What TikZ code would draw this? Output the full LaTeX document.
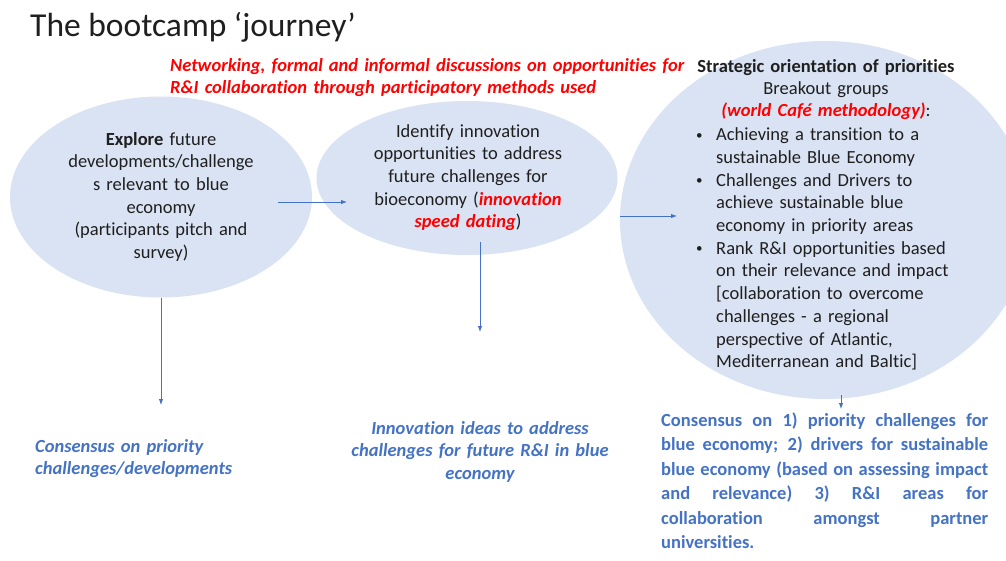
\documentclass[tikz,border=0pt]{standalone}
\usepackage{fontspec}
\setmainfont[Ligatures=NoCommon]{Carlito}
\usetikzlibrary{arrows.meta,shapes.geometric}

\definecolor{bubble}{HTML}{DAE3F3}
\definecolor{flow}{HTML}{4472C4}
\definecolor{hot}{HTML}{FF0000}
\definecolor{ink}{HTML}{1F1F1F}

\newcommand\bulletmark{\makebox[22pt][l]{\hspace*{2pt}\raisebox{1.4pt}{\fontsize{13}{13}\selectfont •}}}
\newcommand\hangpad{\hspace*{22pt}}
\newcommand\hotbi[1]{{\color{hot}\bfseries\itshape #1}}
% a fully justified line: interword spaces share out the spare width
\newcommand\jline[1]{\leavevmode\hbox to 327pt{\spaceskip=0.23em plus 1fil\relax #1}}

\tikzset{
  bubble/.style={ellipse, fill=bubble, draw=none, inner sep=0pt},
  body/.style={font=\fontsize{18.5}{22.7}\selectfont, text=ink, inner sep=0pt, anchor=base},
  outcome/.style={font=\fontsize{18.5}{22.6}\selectfont\bfseries\itshape, text=flow, inner sep=0pt, anchor=base},
  flowarrow/.style={draw=flow, line width=0.9pt, -{Latex[length=6pt,width=4.5pt]}},
}

\begin{document}
\begin{tikzpicture}[x=1pt,y=-1pt]
\useasboundingbox (0,0) rectangle (1006,560);
\clip (0,0) rectangle (1006,560);
\fill[white] (0,0) rectangle (1006,560);

% stage bubbles
\node[bubble, minimum width=302pt, minimum height=201pt] (explore) at (161,197) {};
\node[bubble, minimum width=301pt, minimum height=154pt] (identify) at (467,178) {};
\node[bubble, minimum width=410pt, minimum height=358pt] (strategy) at (825,220) {};

% title and overall note
\node[anchor=base west, inner sep=0pt, text=ink, font=\fontsize{33.5}{40}\selectfont] (title) at (30,36) {The bootcamp ‘journey’};
\node[anchor=base west, inner sep=0pt, text=hot, text width=540pt, align=left,
      font=\fontsize{18.5}{22}\selectfont\bfseries\itshape] (network) at (170,71)
  {Networking, formal and informal discussions on opportunities for\\R\&I collaboration through participatory methods used};

% stage texts
\node[body, text width=240pt, align=center] (exploretext) at (161,145)
  {\textbf{Explore} future\\developments/challenge\\s relevant to blue\\economy\\(participants pitch and\\survey)};
\node[body, text width=260pt, align=center] (identifytext) at (468,137)
  {Identify innovation\\opportunities to address\\future challenges for\\bioeconomy (\hotbi{innovation}\\\hotbi{speed dating})};
\node[body, text width=300pt, align=center, font=\fontsize{18.5}{22}\selectfont] (strategyhead) at (826,72)
  {\textbf{Strategic orientation of priorities}\\Breakout groups\\\hotbi{(world Café methodology)}:};
\node[body, anchor=base west, text width=300pt, align=left] (strategylist) at (694,140.7)
  {\bulletmark Achieving a transition to a\\
   \hangpad sustainable Blue Economy\\
   \bulletmark Challenges and Drivers to\\
   \hangpad achieve sustainable blue\\
   \hangpad economy in priority areas\\
   \bulletmark Rank R\&I opportunities based\\
   \hangpad on their relevance and impact\\
   \hangpad [collaboration to overcome\\
   \hangpad challenges - a regional\\
   \hangpad perspective of Atlantic,\\
   \hangpad Mediterranean and Baltic]};

% outcomes
\node[outcome, anchor=base west, text width=260pt, align=left] (outcomeA) at (35,452)
  {Consensus on priority\\challenges/developments};
\node[outcome, text width=300pt, align=center] (outcomeB) at (480,434)
  {Innovation ideas to address\\challenges for future R\&I in blue\\economy};
\node[outcome, anchor=base west, text width=327pt, align=left,
      font=\fontsize{18.5}{24.5}\selectfont\bfseries\upshape] (outcomeC) at (661,426)
  {\jline{Consensus on 1) priority challenges for}\\
   \jline{blue economy; 2) drivers for sustainable}\\
   \jline{blue economy (based on assessing impact}\\
   \jline{and relevance) 3) R\&I areas for}\\
   \jline{collaboration amongst partner}\\
   universities.};

% connectors
\coordinate (exploreOut) at (278,202);
\coordinate (identifyIn) at (347,202);
\coordinate (identifyOut) at (620,216);
\coordinate (strategyIn) at (677,216);
\coordinate (exploreEnd) at (161,405);
\coordinate (identifyDown) at (480,242);
\coordinate (identifyEnd) at (480,332);
\coordinate (strategyDown) at (841,395);
\coordinate (strategyEnd) at (841,409);

\draw[flowarrow] (exploreOut) -- (identifyIn);
\draw[flowarrow] (identifyOut) -- (strategyIn);
\draw[flowarrow] (explore.south) -- (exploreEnd);
\draw[flowarrow] (identifyDown) -- (identifyEnd);
\draw[flowarrow] (strategyDown) -- (strategyEnd);
\end{tikzpicture}
\end{document}
